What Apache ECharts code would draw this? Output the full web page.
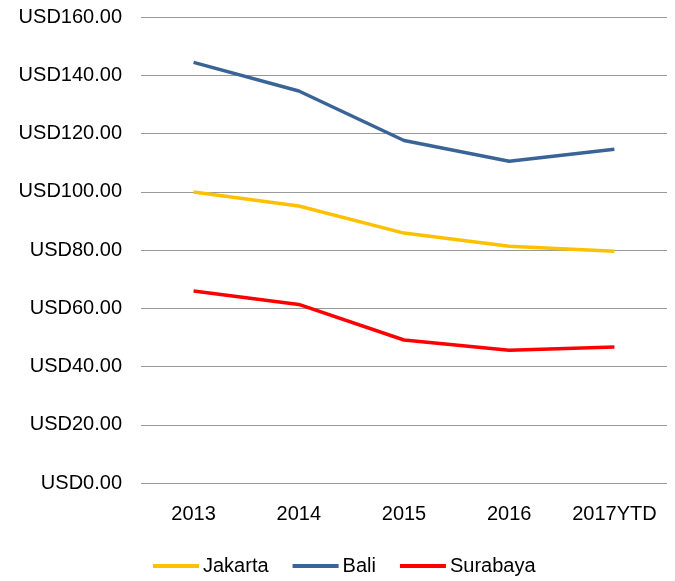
<!DOCTYPE html>
<html>
<head>
<meta charset="utf-8">
<script src="https://cdn.jsdelivr.net/npm/echarts@6/dist/echarts.min.js"></script>
<style>
  html, body { margin: 0; padding: 0; background: #fff; }
  #chart { width: 675px; height: 581px; }
</style>
</head>
<body>
<div id="chart"></div>
<script>
// 年份
const years = ["2013", "2014", "2015", "2016", "2017YTD"];
// 各城市数据 (USD)
const jakarta = [99.9, 95.1, 85.8, 81.3, 79.6];
const bali = [144.4, 134.6, 117.6, 110.5, 114.6];
const surabaya = [65.9, 61.3, 49.1, 45.6, 46.7];

const chart = echarts.init(document.getElementById("chart"));

const option = {
  animation: false,
  textStyle: { fontFamily: "Liberation Sans, Arial, sans-serif" },
  grid: {
    left: 141,
    right: 8,
    top: 17,
    bottom: 98,
  },
  legend: {
    top: 551,
    left: 148,
    icon: "rect",
    itemWidth: 46,
    itemHeight: 4,
    itemGap: 24,
    textStyle: { fontSize: 20, color: "#000", padding: [0, 0, 0, -1] },
    data: ["Jakarta", "Bali", "Surabaya"],
  },
  xAxis: {
    type: "category",
    data: years,
    boundaryGap: true,
    axisLine: { show: false },
    axisTick: { show: false },
    axisLabel: { fontSize: 20, color: "#000", margin: 21, interval: 0 },
  },
  yAxis: {
    type: "value",
    min: 0,
    max: 160,
    interval: 20,
    axisLine: { show: false },
    axisTick: { show: false },
    axisLabel: {
      fontSize: 20,
      color: "#000",
      margin: 19,
      formatter: (v) => "USD" + v.toFixed(2),
    },
    splitLine: { lineStyle: { color: "#999", width: 1 } },
  },
  series: [
    {
      name: "Jakarta",
      type: "line",
      data: jakarta,
      symbol: "none",
      color: "#FFC000",
      lineStyle: { width: 3.5 },
    },
    {
      name: "Bali",
      type: "line",
      data: bali,
      symbol: "none",
      color: "#3A6498",
      lineStyle: { width: 3.5 },
    },
    {
      name: "Surabaya",
      type: "line",
      data: surabaya,
      symbol: "none",
      color: "#FF0000",
      lineStyle: { width: 3.5 },
    },
  ],
};

chart.setOption(option);
</script>
</body>
</html>
